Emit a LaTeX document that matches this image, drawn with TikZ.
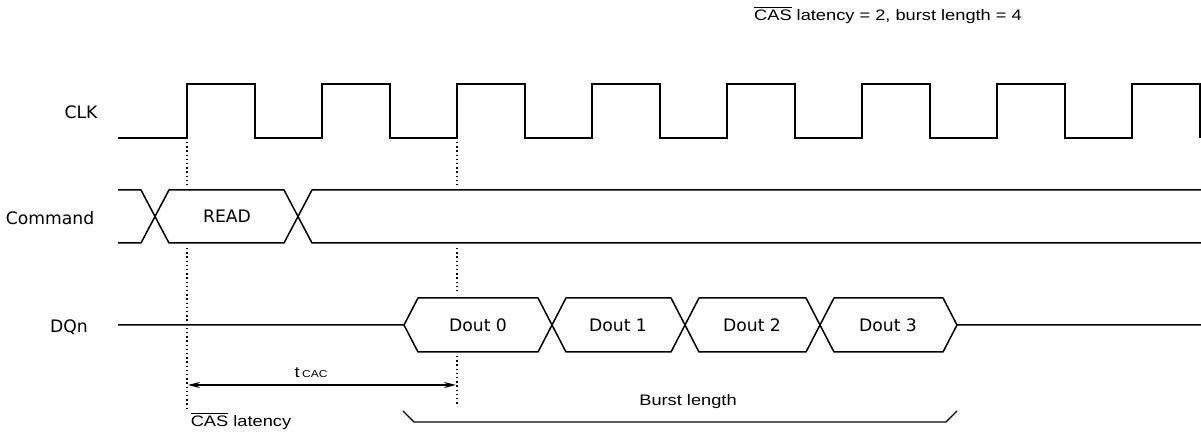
\documentclass[tikz,border=0pt]{standalone}
\usepackage{fontspec}
\usetikzlibrary{arrows.meta}
\newfontfamily\labfont{DejaVu Sans}
\newfontfamily\notefont[FakeStretch=1.2]{Liberation Sans}
\begin{document}
\begin{tikzpicture}[x=0.5pt,y=-0.5pt,
  clkline/.style={line width=1pt, line join=miter},
  sigline/.style={line width=0.75pt, line join=round},
  guide/.style={line width=0.8pt, dash pattern=on 0.7pt off 1.4pt},
  thin/.style={line width=0.6pt},
  lab/.style={font=\labfont\fontsize{8.6}{10}\selectfont, inner sep=0pt},
  note/.style={font=\notefont\fontsize{7.6}{9}\selectfont, inner sep=0pt}]
\useasboundingbox (0,0) rectangle (1201,432);

% labels
\node[note] (title) at (888,15) {$\overline{\hbox{CAS}}$ latency = 2, burst length = 4};
\node[lab] (clklab) at (81,112) {CLK};
\node[lab] (cmdlab) at (50,218) {Command};
\node[lab] (dqlab) at (69,327) {DQn};

% CLK
\draw[clkline] (118,138) foreach \r in {187,322,...,1132} { -- (\r,138) -- (\r,84) -- ({\r+68},84) -- ({\r+68},138) };

% Command
\draw[sigline] (118,190) -- (141,190) -- (169,243) -- (284,243) -- (312,190) -- (1201,190);
\draw[sigline] (118,243) -- (141,243) -- (169,190) -- (284,190) -- (312,243) -- (1201,243);
\node[lab] (read) at (227,216.5) {READ};

% DQn
\draw[sigline] (118,325) -- (404,325) -- (418,298) -- (538,298) -- (566,352) -- (671,352) -- (699,298) -- (806,298) -- (834,352) -- (943,352) -- (957,325) -- (1201,325);
\draw[sigline] (404,325) -- (418,352) -- (538,352) -- (566,298) -- (671,298) -- (699,352) -- (806,352) -- (834,298) -- (943,298) -- (957,325);
\node[lab] (d0) at (478,325) {Dout 0};
\node[lab] (d1) at (618,325) {Dout 1};
\node[lab] (d2) at (752,325) {Dout 2};
\node[lab] (d3) at (888,325) {Dout 3};

% dotted guides
\draw[guide] (187,142) -- (187,185);
\draw[guide] (187,248) -- (187,410);
\draw[guide] (457,142) -- (457,185);
\draw[guide] (457,248) -- (457,292);
\draw[guide] (457,356) -- (457,405);

% tCAC
\coordinate (ta) at (188,385);
\coordinate (tb) at (456,385);
\draw[thin, {Stealth[length=6pt,width=3pt]}-{Stealth[length=6pt,width=3pt]}] (ta) -- (tb);
\node[note] (tcac) at (311,373) {t\,{\fontsize{5}{6}\selectfont CAC}};

% bottom labels
\node[note] (caslat) at (241,421) {$\overline{\hbox{CAS}}$ latency};
\node[note] (burst) at (688,402) {Burst length};
\draw[thin] (403,411) -- (414,422) -- (946,422) -- (957,411);
\end{tikzpicture}
\end{document}
